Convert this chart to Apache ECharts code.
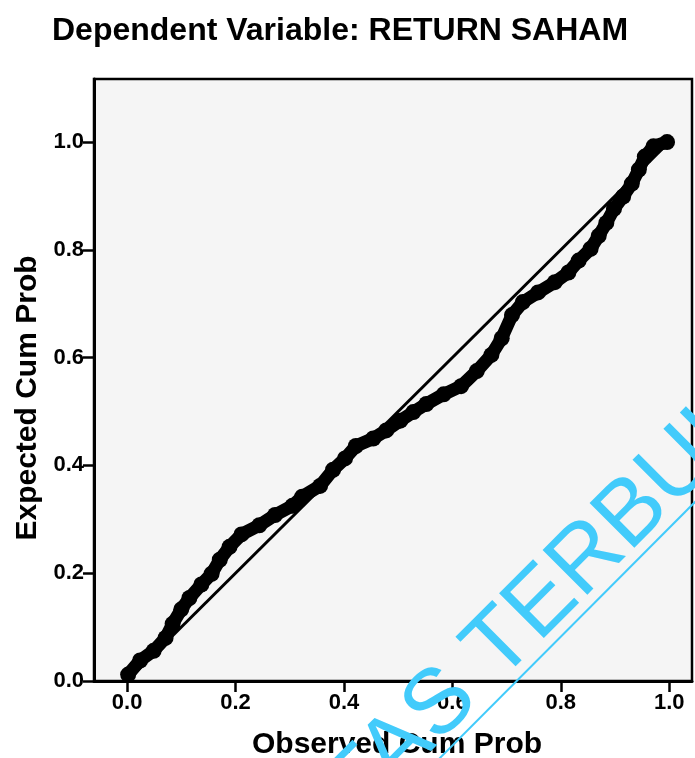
<!DOCTYPE html>
<html>
<head>
<meta charset="utf-8">
<script src="https://cdn.jsdelivr.net/npm/echarts@6/dist/echarts.min.js"></script>
<style>
html,body{margin:0;padding:0;background:#fff;}
#chart{width:695px;height:758px;}
</style>
</head>
<body>
<div id="chart"></div>
<script>
// ---- data ----
const titleText = 'Dependent Variable: RETURN SAHAM';
const xAxisName = 'Observed Cum Prob';
const yAxisName = 'Expected Cum Prob';
const tickValues = [0, 0.2, 0.4, 0.6, 0.8, 1.0];

const observedCumProb = [
  0.002, 0.024, 0.049, 0.071, 0.084, 0.100, 0.115, 0.137, 0.156, 0.171,
  0.189, 0.211, 0.244, 0.273, 0.305, 0.323, 0.356, 0.380, 0.402, 0.422,
  0.454, 0.478, 0.504, 0.528, 0.552, 0.584, 0.616, 0.645, 0.672, 0.691,
  0.710, 0.730, 0.758, 0.789, 0.814, 0.833, 0.855, 0.870, 0.884, 0.898,
  0.915, 0.931, 0.944, 0.955, 0.971, 0.996
];
const expectedCumProb = [
  0.012, 0.038, 0.056, 0.080, 0.106, 0.133, 0.154, 0.179, 0.199, 0.225,
  0.249, 0.272, 0.289, 0.308, 0.325, 0.342, 0.362, 0.392, 0.413, 0.436,
  0.450, 0.465, 0.483, 0.499, 0.514, 0.532, 0.547, 0.575, 0.605, 0.636,
  0.679, 0.703, 0.721, 0.740, 0.758, 0.780, 0.802, 0.826, 0.850, 0.876,
  0.899, 0.923, 0.949, 0.973, 0.992, 1.000
];
const refLineX = [0, 1];
const refLineY = [0, 1];
const watermarkText = 'UNIVERSITAS TERBUKA';

// ---- chart ----
const chart = echarts.init(document.getElementById('chart'), null, {renderer: 'canvas'});
const FONT = '"Liberation Sans", Arial, Helvetica, sans-serif';
const points = observedCumProb.map((x, i) => [x, expectedCumProb[i]]);
const refLine = refLineX.map((x, i) => [x, refLineY[i]]);

const axisCommon = {
  type: 'value',
  axisLine: {show: true, onZero: false, lineStyle: {color: '#000', width: 3}},
  axisTick: {show: true, customValues: tickValues, length: 11, lineStyle: {color: '#000', width: 2.5}},
  axisLabel: {
    customValues: tickValues,
    formatter: v => Number(v).toFixed(1),
    color: '#000', fontSize: 22, fontWeight: 'bold', fontFamily: FONT
  },
  splitLine: {show: false},
  nameLocation: 'middle',
  nameTextStyle: {color: '#000', fontSize: 30, fontWeight: 'bold', fontFamily: FONT}
};

const option = {
  backgroundColor: '#ffffff',
  animation: false,
  title: {
    text: titleText,
    left: 47, top: 10,
    textStyle: {color: '#000', fontSize: 32, fontWeight: 'bold', fontFamily: FONT}
  },
  grid: {
    left: 94, right: 3, top: 79, bottom: 77,
    containLabel: false, outerBoundsMode: 'none',
    show: true, borderColor: '#000', borderWidth: 2.5, backgroundColor: '#f5f5f5'
  },
  xAxis: Object.assign({}, axisCommon, {
    min: -0.061, max: 1.042,
    name: xAxisName, nameGap: 49,
    axisLabel: Object.assign({}, axisCommon.axisLabel, {margin: 11}),
    nameTextStyle: Object.assign({}, axisCommon.nameTextStyle, {padding: [0, 0, 0, 8]})
  }),
  yAxis: Object.assign({}, axisCommon, {
    min: 0, max: 1.117,
    name: yAxisName, nameGap: 47,
    axisLabel: Object.assign({}, axisCommon.axisLabel, {margin: 10}),
    nameTextStyle: Object.assign({}, axisCommon.nameTextStyle, {padding: [0, 36, 0, 0]})
  }),
  series: [
    {
      type: 'line', data: refLine, symbol: 'none', silent: true, z: 2,
      lineStyle: {color: '#000', width: 3}
    },
    {
      type: 'line', data: points, z: 3,
      symbol: 'circle', symbolSize: 16, showAllSymbol: true,
      itemStyle: {color: '#000'},
      lineStyle: {color: '#000', width: 13, cap: 'round', join: 'round'}
    }
  ],
  graphic: [
    {
      type: 'text', z: 100,
      x: 411, y: 735, rotation: Math.PI / 4,
      style: {
        text: watermarkText, fill: '#42cbfb',
        font: 'normal 92px ' + FONT,
        align: 'center', verticalAlign: 'middle'
      }
    },
    {
      type: 'line', z: 100,
      shape: {x1: 425, y1: 773, x2: 705, y2: 492},
      style: {stroke: '#42cbfb', lineWidth: 2}
    }
  ]
};
chart.setOption(option);
</script>
</body>
</html>
